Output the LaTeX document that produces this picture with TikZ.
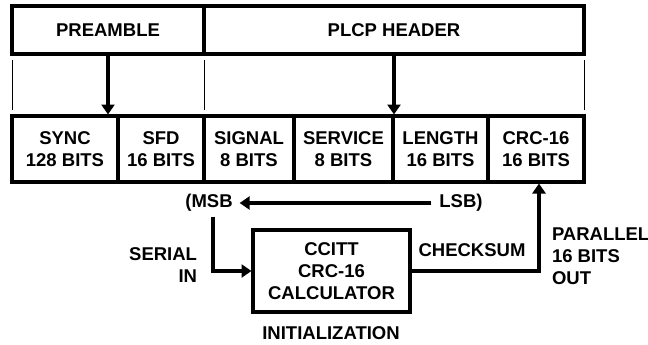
\documentclass[tikz,border=0pt]{standalone}
\usepackage{fontspec}
\setmainfont{Liberation Sans}
\usetikzlibrary{positioning, arrows.meta}
\tikzset{
  lbl/.style = {font=\fontsize{18.5}{22}\selectfont\bfseries, align=center, inner sep=0pt, outer sep=0pt},
  hdr/.style = {lbl, draw, line width=3.3pt, minimum width=#1, minimum height=48pt, anchor=north west},
  field/.style = {lbl, draw, line width=3.3pt, minimum width=#1, minimum height=66pt, anchor=north west},
  arr/.style = {line width=3.3pt, -{Triangle[length=10pt,width=13pt]}},
  guide/.style = {line width=1pt}
}

\begin{document}
\begin{tikzpicture}[x=1pt, y=-1pt]
\useasboundingbox (0,0) rectangle (648,345);

%Header row
\node[hdr=192pt] (preamble) at (12,6) {PREAMBLE};
\node[hdr=380pt, right=0pt of preamble] (plcp) {PLCP HEADER};

%Guide lines
\foreach \x in {12,204,584}
  \draw[guide] (\x,60) -- (\x,110);

%Field row
\node[field=106pt] (sync) at (12,116) {SYNC\\128 BITS};
\node[field=86pt, right=0pt of sync] (sfd) {SFD\\16 BITS};
\node[field=90pt, right=0pt of sfd] (signal) {SIGNAL\\8 BITS};
\node[field=99pt, right=0pt of signal] (service) {SERVICE\\8 BITS};
\node[field=95pt, right=0pt of service] (length) {LENGTH\\16 BITS};
\node[field=96pt, right=0pt of length] (crc) {CRC-16\\16 BITS};

%Arrows down
\draw[arr] (preamble.south) -- ([yshift=1.5pt]preamble.south |- sync.north);
\draw[arr] (plcp.south) -- ([yshift=1.5pt]plcp.south |- length.north);

%Bit order
\node[lbl] (msb) at (209,203) {(MSB};
\node[lbl] (lsb) at (461,203) {LSB)};
\draw[arr, shorten <=8pt, shorten >=7pt] (lsb) -- (msb);

%Calculator
\node[lbl, draw, line width=3.3pt, minimum width=157pt, minimum height=82pt] (calc) at (331.5,271) {CCITT\\CRC-16\\CALCULATOR};
\node[lbl, align=right, anchor=east] (serial) at (197,265) {SERIAL\\IN};
\node[lbl] (init) at (331,333) {INITIALIZATION};
\node[lbl] (cksum) at (472,250) {CHECKSUM};
\node[lbl, align=left, anchor=west] (par) at (552,256) {PARALLEL\\16 BITS\\OUT};

\draw[arr] ([xshift=4pt, yshift=-5pt]msb.south) |- ([xshift=-1.5pt]calc.west);
\draw[arr] (calc.east) -| ([xshift=3pt, yshift=-1.5pt]crc.south);

\end{tikzpicture}
\end{document}
